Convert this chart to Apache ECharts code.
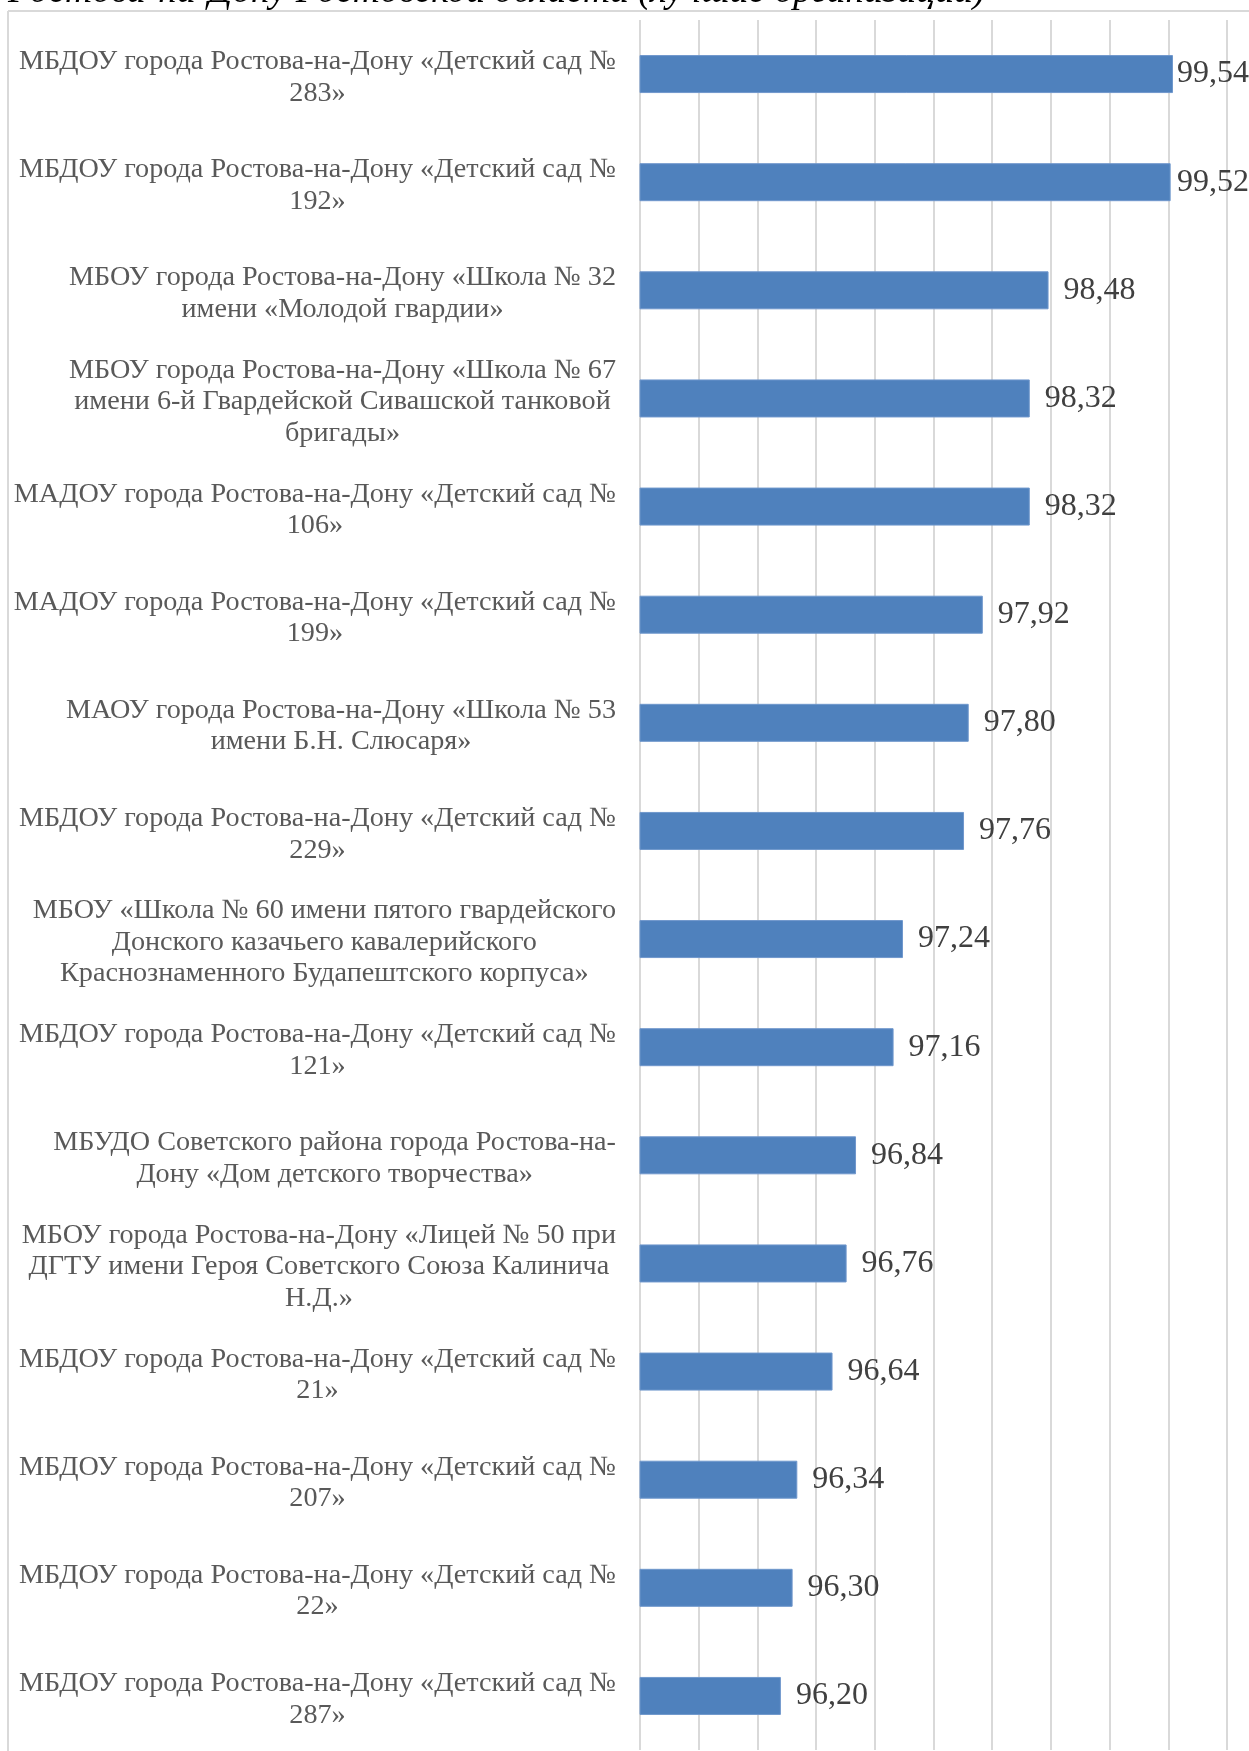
<!DOCTYPE html>
<html>
<head>
<meta charset="utf-8">
<script src="https://cdn.jsdelivr.net/npm/echarts@6/dist/echarts.min.js"></script>
<style>
  html, body { margin: 0; padding: 0; background: #ffffff; }
  #chart { width: 1249px; height: 1751px; }
</style>
</head>
<body>
<div id="chart"></div>
<script>
const titleText = 'Ростова-на-Дону Ростовской области (лучшие организации)';

const categories = [
  'МБДОУ города Ростова-на-Дону «Детский сад №\n283»',
  'МБДОУ города Ростова-на-Дону «Детский сад №\n192»',
  'МБОУ города Ростова-на-Дону «Школа № 32\nимени «Молодой гвардии»',
  'МБОУ города Ростова-на-Дону «Школа № 67\nимени 6-й Гвардейской Сивашской танковой\nбригады»',
  'МАДОУ города Ростова-на-Дону «Детский сад №\n106»',
  'МАДОУ города Ростова-на-Дону «Детский сад №\n199»',
  'МАОУ города Ростова-на-Дону «Школа № 53\nимени Б.Н. Слюсаря»',
  'МБДОУ города Ростова-на-Дону «Детский сад №\n229»',
  'МБОУ «Школа № 60 имени пятого гвардейского\nДонского казачьего кавалерийского\nКраснознаменного Будапештского корпуса»',
  'МБДОУ города Ростова-на-Дону «Детский сад №\n121»',
  'МБУДО Советского района города Ростова-на-\nДону «Дом детского творчества»',
  'МБОУ города Ростова-на-Дону «Лицей № 50 при\nДГТУ имени Героя Советского Союза Калинича\nН.Д.»',
  'МБДОУ города Ростова-на-Дону «Детский сад №\n21»',
  'МБДОУ города Ростова-на-Дону «Детский сад №\n207»',
  'МБДОУ города Ростова-на-Дону «Детский сад №\n22»',
  'МБДОУ города Ростова-на-Дону «Детский сад №\n287»'
];

const values = [99.54, 99.52, 98.48, 98.32, 98.32, 97.92, 97.80, 97.76, 97.24, 97.16, 96.84, 96.76, 96.64, 96.34, 96.30, 96.20];

const axisMin = 95;
const axisMax = 100;
const axisStep = 0.5;

const chart = echarts.init(document.getElementById('chart'), null, { renderer: 'canvas' });

const option = {
  backgroundColor: '#ffffff',
  animation: false,
  graphic: [
    {
      type: 'text',
      left: 8,
      top: -27,
      silent: true,
      style: {
        text: titleText,
        font: 'italic 37.6px "Liberation Serif"',
        fill: '#000000'
      }
    },
    {
      type: 'line',
      silent: true,
      shape: { x1: 8, y1: 11, x2: 1249, y2: 11 },
      style: { stroke: '#d9d9d9', lineWidth: 2 }
    },
    {
      type: 'line',
      silent: true,
      shape: { x1: 8, y1: 11, x2: 8, y2: 1751 },
      style: { stroke: '#d9d9d9', lineWidth: 2 }
    }
  ],
  grid: {
    left: 640,
    right: 22,
    top: 20,
    bottom: 1,
    containLabel: false
  },
  xAxis: {
    type: 'value',
    min: axisMin,
    max: axisMax,
    interval: axisStep,
    axisLine: { show: false },
    axisTick: { show: false },
    axisLabel: { show: false },
    splitLine: { show: true, lineStyle: { color: '#d9d9d9', width: 2 } }
  },
  yAxis: {
    type: 'category',
    data: categories,
    inverse: true,
    axisLine: { show: false },
    axisTick: { show: false },
    axisLabel: {
      interval: 0,
      align: 'right',
      margin: 24,
      padding: [7, 0, 0, 0],
      formatter: function (v) { return '{c|' + v + '}'; },
      rich: {
        c: {
          align: 'center',
          fontFamily: 'Liberation Serif',
          fontSize: 28.2,
          lineHeight: 31.5,
          color: '#595959'
        }
      }
    }
  },
  series: [
    {
      type: 'bar',
      data: values,
      barWidth: 38,
      itemStyle: { color: '#4F81BD', borderColor: '#6f97cc', borderWidth: 1 },
      label: {
        show: true,
        position: 'right',
        distance: 15,
        padding: [6, 0, 0, 0],
        fontFamily: 'Liberation Serif',
        fontSize: 32,
        color: '#404040',
        formatter: function (p) { return p.value.toFixed(2).replace('.', ','); }
      }
    }
  ],
  labelLayout: function (params) {
    const r = params.labelRect;
    const over = r.x + r.width - chart.getWidth();
    if (over > 0) {
      return { dx: -over };
    }
    return {};
  }
};

chart.setOption(option);
</script>
</body>
</html>
